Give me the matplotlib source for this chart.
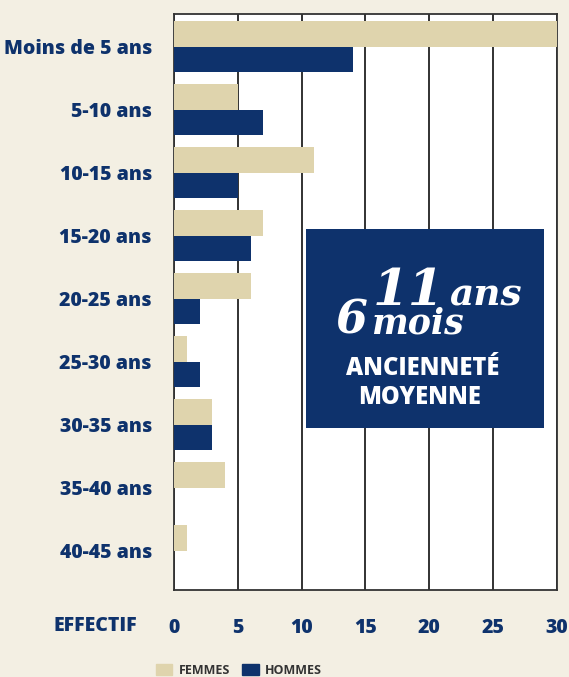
import matplotlib.pyplot as plt
import numpy as np
from matplotlib.patches import Patch

# data
categories = ['Moins de 5 ans', '5-10 ans', '10-15 ans', '15-20 ans', '20-25 ans',
              '25-30 ans', '30-35 ans', '35-40 ans', '40-45 ans']
femmes = [30, 5, 11, 7, 6, 1, 3, 4, 1]
hommes = [14, 7, 5, 6, 2, 2, 3, 0, 0]
xticks = [0, 5, 10, 15, 20, 25, 30]

NAVY = '#0E326C'
BEIGE = '#DFD4AD'
BG = '#F3EFE3'
FONT = 'Open Sans'

fig = plt.figure(figsize=(5.69, 6.77), dpi=100, facecolor=BG)
ax = fig.add_axes([0.3058, 0.1285, 0.6731, 0.8508])
ax.set_facecolor('white')

y = np.arange(len(categories))
h = 0.405
ax.barh(y - h / 2, femmes, height=h, color=BEIGE, zorder=3)
ax.barh(y + h / 2, hommes, height=h, color=NAVY, zorder=3)

ax.set_xlim(0, 30)
ax.set_ylim(8.62, -0.52)
ax.set_xticks(xticks)
ax.set_xticklabels([str(t) for t in xticks])
ax.set_yticks(y)
ax.set_yticklabels(categories)
ax.tick_params(axis='both', length=0)
ax.tick_params(axis='y', pad=16)
ax.tick_params(axis='x', pad=20)
for lab in ax.get_xticklabels() + ax.get_yticklabels():
    lab.set_fontfamily(FONT)
    lab.set_fontweight(800)
    lab.set_fontsize(14)
    lab.set_color(NAVY)

ax.grid(axis='x', color='#222222', linewidth=1.3, zorder=1)
for s in ax.spines.values():
    s.set_color('#333333')
    s.set_linewidth(1.3)

fig.text(137 / 569, 1 - 626 / 677, 'EFFECTIF', ha='right', va='center',
         fontfamily=FONT, fontweight=800, fontsize=14, color=NAVY)

# the blue box with the average
box = plt.Rectangle((306 / 569, 1 - 428 / 677), (544 - 306) / 569, (428 - 229) / 677,
                    transform=fig.transFigure, facecolor=NAVY, edgecolor='none', zorder=5)
fig.add_artist(box)
serif = dict(fontfamily='DejaVu Serif', fontweight='bold', style='italic',
             color='white', zorder=6)
fig.text(444 / 569, 1 - 305 / 677, '11', ha='right', va='baseline', fontsize=37, **serif)
fig.text(449 / 569, 1 - 305 / 677, 'ans', ha='left', va='baseline', fontsize=27, **serif)
fig.text(368 / 569, 1 - 333 / 677, '6', ha='right', va='baseline', fontsize=33, **serif)
fig.text(371 / 569, 1 - 333 / 677, 'mois', ha='left', va='baseline', fontsize=25, **serif)
fig.text(423 / 569, 1 - 368 / 677, 'ANCIENNETÉ', ha='center', va='center', fontsize=17,
         fontfamily=FONT, fontweight=800, color='white', zorder=6)
fig.text(420 / 569, 1 - 397 / 677, 'MOYENNE', ha='center', va='center', fontsize=17,
         fontfamily=FONT, fontweight=800, color='white', zorder=6)

handles = [Patch(color=BEIGE, label='FEMMES'), Patch(color=NAVY, label='HOMMES')]
fig.legend(handles=handles, loc='upper center', bbox_to_anchor=(0.42, 0.036), ncol=2,
           frameon=False, handlelength=1.3, handleheight=1.0, columnspacing=1.0,
           handletextpad=0.5, prop={'family': FONT, 'weight': 'bold', 'size': 9},
           labelcolor='#333333')

fig.savefig('out.png', dpi=100, facecolor=BG)
